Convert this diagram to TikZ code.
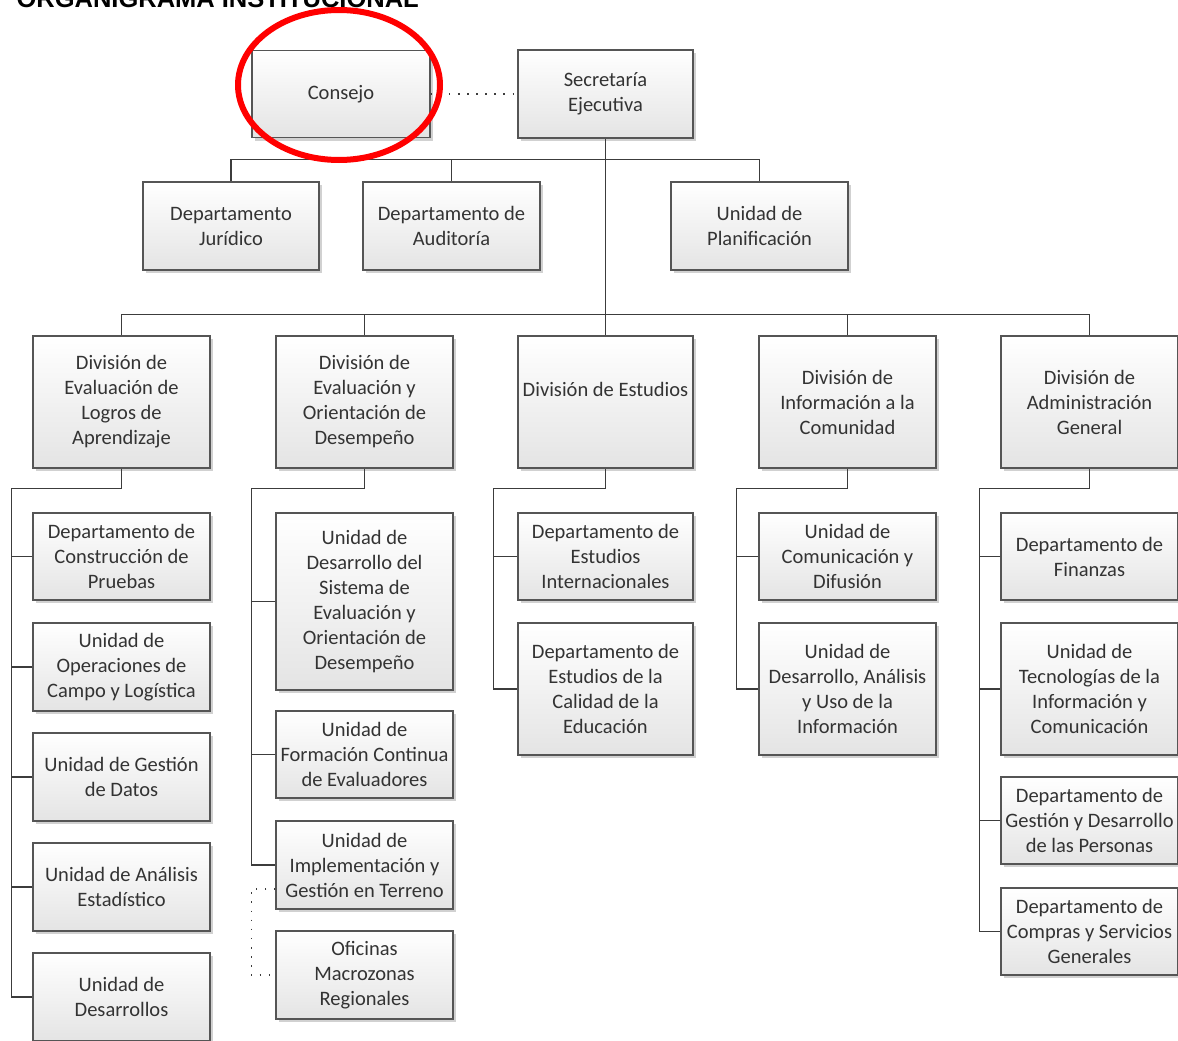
\documentclass[tikz,border=0pt]{standalone}
\usepackage{fontspec}
\setmainfont{Carlito}
\newfontfamily\titlefont{Liberation Sans}
\usetikzlibrary{shadows}

\definecolor{boxline}{HTML}{555555}
\definecolor{boxfill}{HTML}{E4E4E4}
\definecolor{wire}{HTML}{3C3C3C}
\definecolor{boxtext}{HTML}{333333}

\tikzset{
	unit/.style={draw=boxline, line width=1.3pt, top color=white, bottom color=boxfill,
		minimum width=177pt, minimum height=88pt, inner sep=0pt, align=center,
		text=boxtext, font=\fontsize{20.5}{25}\selectfont,
		drop shadow={shadow xshift=3pt, shadow yshift=-3pt, opacity=0.18, fill=black}},
	tall/.style={unit, minimum height=132pt},
	link/.style={draw=wire, line width=1.3pt},
	dots/.style={draw=wire, line width=1.6pt, dash pattern=on 1.6pt off 7.5pt}
}

\begin{document}
\begin{tikzpicture}[x=1pt, y=-1pt]
				\path[use as bounding box, clip] (0,0) rectangle (1178,1041);
				
				\node[anchor=base west, text=black, font=\titlefont\bfseries\fontsize{25.5}{30}\selectfont] (title) at (13,8) {ORGANIGRAMA INSTITUCIONAL};
				
				\node[unit, minimum width=178pt, minimum height=87pt] (consejo) at (341,94) {Consejo};
				\node[unit, minimum width=175pt] (secr) at (605.5,94) {Secretaría\\Ejecutiva};
				
				\node[unit, minimum width=176pt] (jur) at (231,226) {Departamento\\Jurídico};
				\node[unit] (aud) at (451.5,226) {Departamento de\\Auditoría};
				\node[unit] (plan) at (759.5,226) {Unidad de\\Planificación};
				
				\node[tall] (div1) at (121.5,402) {División de\\Evaluación de\\Logros de\\Aprendizaje};
				\node[tall] (div2) at (364.5,402) {División de\\Evaluación y\\Orientación de\\Desempeño};
				\node[tall, minimum width=175pt] (div3) at (605.5,402) {División de Estudios\\~};
				\node[tall] (div4) at (847.5,402) {División de\\Información a la\\Comunidad};
				\node[tall] (div5) at (1089.5,402) {División de\\Administración\\General};
				
				\node[unit, minimum height=87pt] (cons) at (121.5,556.5) {Departamento de\\Construcción de\\Pruebas};
				\node[unit] (oper) at (121.5,667) {Unidad de\\Operaciones de\\Campo y Logística};
				\node[unit] (gest) at (121.5,777) {Unidad de Gestión\\de Datos};
				\node[unit] (anal) at (121.5,887) {Unidad de Análisis\\Estadístico};
				\node[unit] (desa) at (121.5,997) {Unidad de\\Desarrollos};
				
				\node[unit, minimum height=177pt] (sist) at (364.5,601.5) {Unidad de\\Desarrollo del\\Sistema de\\Evaluación y\\Orientación de\\Desempeño};
				\node[unit, minimum height=87pt] (form) at (364.5,754.5) {Unidad de\\Formación Continua\\de Evaluadores};
				\node[unit] (impl) at (364.5,865) {Unidad de\\Implementación y\\Gestión en Terreno};
				\node[unit] (ofic) at (364.5,975) {Oficinas\\Macrozonas\\Regionales};
				
				\node[unit, minimum width=175pt, minimum height=87pt] (inter) at (605.5,556.5) {Departamento de\\Estudios\\Internacionales};
				\node[tall, minimum width=175pt] (calid) at (605.5,689) {Departamento de\\Estudios de la\\Calidad de la\\Educación};
				
				\node[unit, minimum height=87pt] (comun) at (847.5,556.5) {Unidad de\\Comunicación y\\Difusión};
				\node[tall] (uso) at (847.5,689) {Unidad de\\Desarrollo, Análisis\\y Uso de la\\Información};
				
				\node[unit, minimum height=87pt] (finan) at (1089.5,556.5) {Departamento de\\Finanzas};
				\node[tall] (tecno) at (1089.5,689) {Unidad de\\Tecnologías de la\\Información y\\Comunicación};
				\node[unit, minimum height=87pt] (pers) at (1089.5,820.5) {Departamento de\\Gestión y Desarrollo\\de las Personas};
				\node[unit, minimum height=87pt] (compr) at (1089.5,931.5) {Departamento de\\Compras y Servicios\\Generales};
				
				\draw[dots] (consejo.east) -- (secr.east -| secr.west);
				\draw[link] (secr.south) -- (div3.north);
				\draw[link] (jur.north) -- ++(0,-22) -| (plan.north);
				\draw[link] (aud.north) -- ++(0,-22);
				\draw[link] (div1.north) -- ++(0,-21) -| (div5.north);
				\draw[link] (div2.north) -- ++(0,-21);
				\draw[link] (div4.north) -- ++(0,-21);
				
				\draw[link] (div1.south) -- ++(0,20) -| ([xshift=-21pt]desa.west) -- (desa.west);
				\foreach \n in {cons,oper,gest,anal}
					\draw[link] (\n.west) -- ++(-21,0);
				
				\draw[link] (div2.south) -- ++(0,20) -| ([xshift=-24pt]impl.west) -- (impl.west);
				\foreach \n in {sist,form}
					\draw[link] (\n.west) -- ++(-24,0);
				\draw[dots] ([yshift=-24pt]impl.west) -- ++(-24,0) |- (ofic.west);
				
				\draw[link] (div3.south) -- ++(0,20) -| ([xshift=-24pt]calid.west) -- (calid.west);
				\draw[link] (inter.west) -- ++(-24,0);
				
				\draw[link] (div4.south) -- ++(0,20) -| ([xshift=-22pt]uso.west) -- (uso.west);
				\draw[link] (comun.west) -- ++(-22,0);
				
				\draw[link] (div5.south) -- ++(0,20) -| ([xshift=-21pt]compr.west) -- (compr.west);
				\foreach \n in {finan,tecno,pers}
					\draw[link] (\n.west) -- ++(-21,0);
				
				\draw[red, line width=6pt] (339,85) ellipse [x radius=101, y radius=75];
\end{tikzpicture}
\end{document}
